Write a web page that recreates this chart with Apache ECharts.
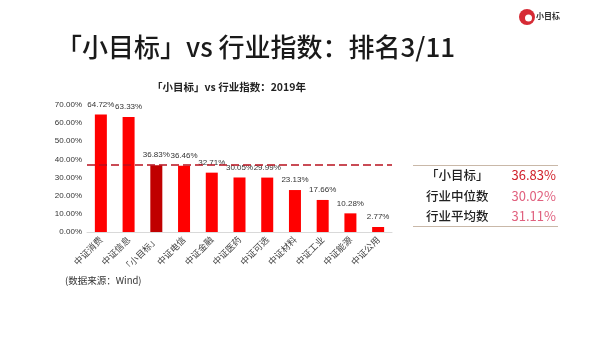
<!DOCTYPE html>
<html><head><meta charset="utf-8">
<script src="https://cdn.jsdelivr.net/npm/echarts@6/dist/echarts.min.js"></script>
<style>html,body{margin:0;padding:0;background:#fff}#c{width:600px;height:338px}</style>
</head><body><div id="c"></div>
<script>
const categories = ['中证消费','中证信息','「小目标」','中证电信','中证金融','中证医药','中证可选','中证材料','中证工业','中证能源','中证公用'];
const values = [64.72,63.33,36.83,36.46,32.71,30.05,29.99,23.13,17.66,10.28,2.77];
const highlightIndex = 2;
const refLine = 36.83;
const tableNames = ['「小目标」','行业中位数','行业平均数'];
const tableValues = ['36.83%','30.02%','31.11%'];

const F = '"Noto Sans CJK SC","Noto Sans",sans-serif';
const chart = echarts.init(document.getElementById('c'));
const tableColors = ['#d0202a','#e0607e','#e0607e'];
const graphics = [
  {type:'text', left:56, top:34, style:{text:'「小目标」vs 行业指数：排名3/11', font:'500 26px '+F, fill:'#1a1a1a'}},
  {type:'text', left:152, top:82, style:{text:'「小目标」vs 行业指数：2019年', font:'bold 10.5px '+F, fill:'#222'}},
  {type:'text', left:65, top:276, style:{text:'(数据来源：Wind)', font:'9.5px '+F, fill:'#333'}},
  {type:'circle', shape:{cx:527, cy:17, r:8}, style:{fill:'#d62b35'}},
  {type:'circle', shape:{cx:528.5, cy:18, r:3.5}, style:{fill:'#fff'}},
  {type:'text', left:536, top:12, style:{text:'小目标', font:'bold 8px '+F, fill:'#333'}},
  {type:'line', shape:{x1:413, y1:165.5, x2:558, y2:165.5}, style:{stroke:'#c9b8a8', lineWidth:1.2}},
  {type:'line', shape:{x1:413, y1:226.5, x2:558, y2:226.5}, style:{stroke:'#c9b8a8', lineWidth:1.2}}
];
tableNames.forEach((n,i)=>{
  graphics.push({type:'text', left:426, top:169+i*20.5, style:{text:n, font:'500 12.5px '+F, fill:'#222'}});
  graphics.push({type:'text', right:44, top:169+i*20.5, style:{text:tableValues[i], font:'13px '+F, fill:tableColors[i], align:'right'}});
});
chart.setOption({
  animation:false,
  grid:{left:87, right:208, top:105, bottom:106},
  xAxis:{type:'category', data:categories,
    axisLine:{lineStyle:{color:'#d9d9d9'}}, axisTick:{show:false},
    axisLabel:{rotate:45, fontSize:9, color:'#444', fontFamily:F, interval:0, margin:6}},
  yAxis:{type:'value', min:0, max:70, interval:10,
    axisLine:{show:false}, axisTick:{show:false}, splitLine:{show:false},
    axisLabel:{fontSize:8, color:'#333', formatter:v=>v.toFixed(2)+'%', margin:5, fontFamily:'Arial, "Liberation Sans", sans-serif'}},
  series:[{type:'bar', barWidth:12,
    data:values.map((v,i)=>({value:v, itemStyle:{color:i===highlightIndex?'#c00000':'#ff0000'}})),
    label:{show:true, position:'top', distance:6, fontSize:8, color:'#333', fontFamily:'Arial, "Liberation Sans", sans-serif', formatter:p=>p.value.toFixed(2)+'%'},
    markLine:{symbol:['none','none'], silent:true, label:{show:false},
      lineStyle:{color:'#b8101e', type:[8,4], width:1.5, opacity:1},
      emphasis:{disabled:true},
      data:[{yAxis:refLine}]}
  }],
  graphic:graphics
});
</script></body></html>
